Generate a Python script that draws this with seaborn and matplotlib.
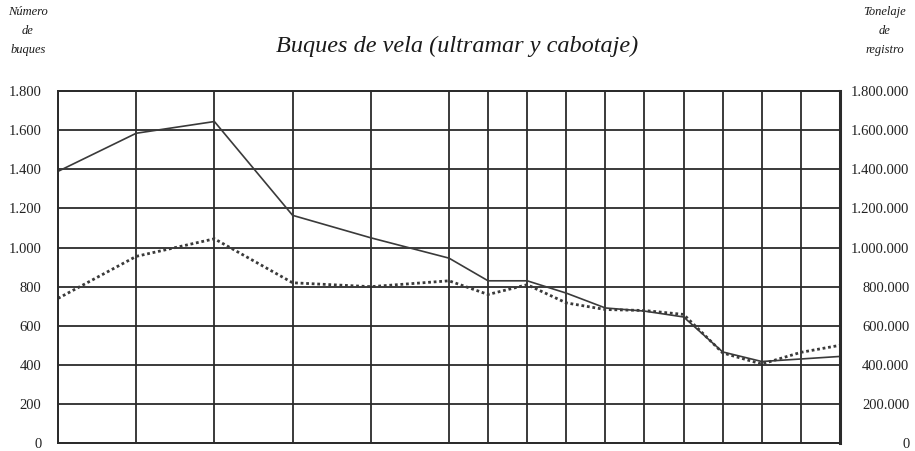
import matplotlib
matplotlib.use("Agg")
import matplotlib.pyplot as plt
import seaborn as sns
import pandas as pd
from matplotlib.ticker import FuncFormatter

# positions along the time axis (grid units, no labels in the source)
periodo = [0, 2, 4, 6, 8, 10, 11, 12, 13, 14, 15, 16, 17, 18, 19, 20]
# number of ships (left axis)
buques = [1390, 1585, 1645, 1165, 1050, 946, 830, 830, 767, 691, 675, 645, 466, 417, 430, 443]
# registered tonnage (right axis)
tonelaje = [740000, 955000, 1045000, 820000, 800000, 830000, 760000, 810000,
            717000, 683000, 678000, 658000, 461000, 404000, 464000, 500000]

sns.set_style("white")
plt.rcParams['font.family'] = ['Liberation Serif', 'DejaVu Serif']

df = pd.DataFrame({"periodo": periodo, "buques": buques, "tonelaje": tonelaje})

fig = plt.figure(figsize=(9.15, 4.51), dpi=100)
ax = fig.add_axes([0.0634, 0.0177, 0.8546, 0.78])
ax2 = ax.twinx()

gridc = "#2b2b2b"
ax.set_xlim(0, 20)
ax.set_ylim(0, 1800)
ax2.set_ylim(0, 1800000)
ax.set_xticks(periodo)
ax.set_yticks(range(0, 1801, 200))
ax2.set_yticks(range(0, 1800001, 200000))
ax.grid(True, color=gridc, lw=1.3)
ax.set_axisbelow(True)

sns.lineplot(data=df, x="periodo", y="buques", ax=ax, color="#3a3a3a", lw=1.2)
sns.lineplot(data=df, x="periodo", y="tonelaje", ax=ax2, color="#3a3a3a", lw=2.0,
             linestyle=(0, (1, 1)))

dots = FuncFormatter(lambda v, p: f"{int(v):,}".replace(",", "."))
ax.yaxis.set_major_formatter(dots)
ax2.yaxis.set_major_formatter(dots)
ax.set_xticklabels([])
ax.set_xlabel("")
ax.set_ylabel("")
ax2.set_ylabel("")
ax.tick_params(axis="y", length=0, labelsize=10.5, colors="#222222", pad=12)
ax2.tick_params(axis="y", length=0, labelsize=10.5, colors="#222222", pad=50)
for lab in ax2.get_yticklabels():
    lab.set_horizontalalignment("right")
ax.tick_params(axis="x", length=0, pad=0)

for a in (ax, ax2):
    for s in a.spines.values():
        s.set_color(gridc)
        s.set_linewidth(1.3)
ax2.spines["right"].set_linewidth(2.2)

fig.text(0.50, 0.896, "Buques de vela (ultramar y cabotaje)", ha="center", va="center",
         fontsize=17.5, style="italic", color="#1a1a1a")
fig.text(0.0306, 0.931, "Número\nde\nbuques", ha="center", va="center", fontsize=9,
         style="italic", color="#1a1a1a", linespacing=1.75)
fig.text(0.967, 0.931, "Tonelaje\nde\nregistro", ha="center", va="center", fontsize=9,
         style="italic", color="#1a1a1a", linespacing=1.75)

plt.savefig("out.png", dpi=100)
